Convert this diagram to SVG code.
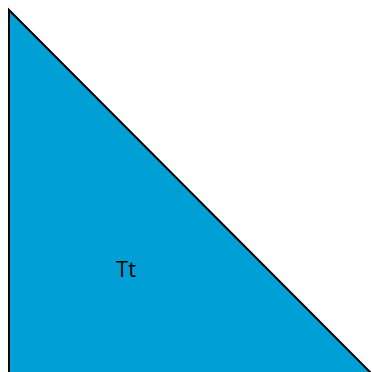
<svg xmlns="http://www.w3.org/2000/svg" width="372" height="372" viewBox="0 0 372 372">
<style>
.shape{fill:#00A0D6;stroke:#000;stroke-width:2}
.lbl{font-family:"Open Sans","Noto Sans",sans-serif;font-size:22px;fill:#000;text-anchor:middle}
</style>
<rect width="372" height="372" fill="#fff"/>
<g id="triangle">
<polygon class="shape" points="9,10 9,374 372,374"/>
<text class="lbl" x="126" y="277">Tt</text>
</g>
</svg>
